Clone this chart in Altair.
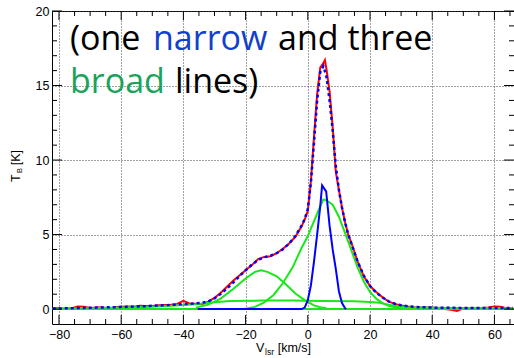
import altair as alt
import pandas as pd

# ---------------- data ----------------
# observed spectrum (red)
data_v = [-82, -80, -78, -76, -74, -72, -70, -68, -66, -64, -62, -60, -58, -56, -54, -52, -50, -48, -46, -44,
          -42, -40, -38, -36, -34, -32, -30, -28, -26, -24, -22, -20, -18, -16, -14, -12, -10, -8, -6, -4,
          -2, -1, 0, 1, 2, 3, 4, 5, 5.5, 6, 7, 8, 9, 10, 11, 12, 13, 14, 16, 18, 20, 22, 24, 26, 28, 30,
          32, 34, 36, 38, 40, 42, 44, 46, 48, 50, 52, 54, 56, 58, 60, 62, 64, 66]
data_t = [0.08, 0.06, 0.02, 0.05, 0.18, 0.15, 0.08, 0.10, 0.12, 0.02, 0.12, 0.15, 0.18, 0.16, 0.22, 0.20, 0.20, 0.26, 0.28, 0.30,
          0.35, 0.55, 0.38, 0.36, 0.33, 0.50, 0.75, 1.10, 1.50, 1.90, 2.25, 2.60, 2.95, 3.35, 3.50, 3.55, 3.75, 4.05, 4.40, 4.85,
          5.55, 6.00, 6.60, 8.60, 11.6, 14.4, 16.2, 16.5, 16.7, 16.1, 14.6, 12.2, 9.2, 8.0, 6.8, 5.8, 5.0, 4.45, 3.2, 2.2, 1.55, 1.15, 0.80, 0.50, 0.35, 0.25,
          0.18, 0.12, 0.10, 0.10, 0.10, 0.05, 0.00, -0.05, -0.12, 0.05, 0.08, 0.05, 0.08, 0.10, 0.18, 0.15, 0.05, 0.08]

# total fit (blue dotted)
fit_v = [-82, -80, -76, -72, -68, -64, -60, -56, -52, -48, -44, -40, -36, -34, -32, -30, -28, -26, -24, -22,
         -20, -18, -16, -14, -12, -10, -8, -6, -4, -2, -1, 0, 1, 2, 3, 4, 5, 6, 7, 8,
         9, 10, 11, 12, 13, 14, 16, 18, 20, 22, 24, 26, 28, 30, 32, 34, 36, 40, 44, 48, 52, 56, 60, 64, 66]
fit_t = [0.03, 0.04, 0.06, 0.08, 0.10, 0.12, 0.14, 0.17, 0.20, 0.24, 0.28, 0.33, 0.38, 0.42, 0.52, 0.72, 1.02, 1.38, 1.78, 2.20,
         2.60, 2.98, 3.30, 3.48, 3.58, 3.75, 4.02, 4.40, 4.90, 5.60, 6.05, 6.70, 8.50, 11.2, 14.0, 15.9, 16.3, 15.6, 14.0, 12.0,
         9.6, 8.0, 6.8, 5.8, 5.0, 4.4, 3.2, 2.25, 1.55, 1.10, 0.78, 0.52, 0.36, 0.26, 0.20, 0.16, 0.13, 0.10, 0.09, 0.08, 0.08, 0.07, 0.07, 0.07, 0.07]

# narrow component (blue)
narrow_v = [-35.4, -2, -1, 0, 1, 2, 3, 4, 4.6, 5.9, 7, 8, 9, 10, 11, 12, 12.3]
narrow_t = [0, 0, 0.1, 0.6, 1.6, 3.2, 5.0, 6.9, 8.3, 7.9, 5.6, 4.0, 2.7, 1.2, 0.4, 0.05, 0]

# broad components (green)
broad1_v = [-36, -32, -28, -24, -20, -17, -15, -13, -10, -7, -4, -1, 2, 4, 6]
broad1_t = [0.1, 0.3, 0.7, 1.35, 2.05, 2.5, 2.6, 2.5, 2.2, 1.65, 1.05, 0.6, 0.25, 0.12, 0.05]

broad2_v = [-20, -17, -14, -11, -8, -5, -2, 0, 2, 4, 5, 6, 8, 10, 12, 14, 16, 18, 20, 22, 24, 26, 28, 30, 33, 36]
broad2_t = [0.03, 0.15, 0.45, 0.95, 1.75, 2.75, 4.1, 4.9, 5.9, 6.9, 7.36, 7.3, 7.0, 6.2, 5.1, 3.95, 2.8, 1.85, 1.15, 0.7, 0.4, 0.22, 0.12, 0.06, 0.02, 0.01]

broad3_v = [-82, -70, -60, -50, -44, -40, -36, -33, -30, -25, -15, -5, 5, 15, 20, 23, 26, 29, 32, 40, 50, 60, 66]
broad3_t = [0.03, 0.06, 0.10, 0.16, 0.22, 0.28, 0.33, 0.40, 0.46, 0.54, 0.57, 0.57, 0.55, 0.52, 0.48, 0.42, 0.30, 0.18, 0.12, 0.09, 0.08, 0.08, 0.08]

zero_v = [-82.25, 66.3]
zero_t = [0, 0]

x_major = [-80, -60, -40, -20, 0, 20, 40, 60]
x_minor = [-75, -70, -65, -55, -50, -45, -35, -30, -25, -15, -10, -5, 5, 10, 15, 25, 30, 35, 45, 50, 55, 65]
y_major = [0, 5, 10, 15, 20]
y_minor = [1, 2, 3, 4, 6, 7, 8, 9, 11, 12, 13, 14, 16, 17, 18, 19]

# ---------------- chart ----------------
W, H = 462, 313
PL, PT = 52, 11
xs = alt.Scale(domain=[-82.25, 66.3], nice=False, zero=False)
ys = alt.Scale(domain=[-1, 20], nice=False, zero=False)
FONT = "Liberation Sans"

XA = alt.Axis(values=x_major, title="", grid=True, gridDash=[1, 2], gridColor="#444",
              gridWidth=1, ticks=False, domain=False, labelFont=FONT, labelFontSize=12.5,
              labelColor="black", labelPadding=4, labelFlush=False, labelOverlap=False)
YA = alt.Axis(values=y_major, title="", grid=True, gridDash=[1, 2], gridColor="#444",
              gridWidth=1, ticks=False, domain=False, labelFont=FONT, labelFontSize=12.5,
              labelColor="black", labelPadding=3, labelFlush=False, labelOverlap=False)


def curve(vs, ts, color, width=2, dash=None):
    df = pd.DataFrame({"v": vs, "t": ts})
    kw = dict(color=color, strokeWidth=width, clip=True)
    if dash:
        kw["strokeDash"] = dash
    return alt.Chart(df).mark_line(**kw).encode(
        x=alt.X("v:Q", scale=xs, axis=XA), y=alt.Y("t:Q", scale=ys, axis=YA),
        order=alt.Order("v:Q"))


def xticks(vals, length, top):
    df = pd.DataFrame({"v": vals})
    y0 = 0 if top else H
    y1 = length if top else H - length
    return alt.Chart(df).mark_rule(color="black", strokeWidth=1).encode(
        x=alt.X("v:Q", scale=xs, axis=XA), y=alt.value(y0), y2=alt.value(y1))


def yticks(vals, length, right):
    df = pd.DataFrame({"t": vals})
    x0 = W if right else 0
    x1 = W - length if right else length
    return alt.Chart(df).mark_rule(color="black", strokeWidth=1).encode(
        y=alt.Y("t:Q", scale=ys, axis=YA), x=alt.value(x0), x2=alt.value(x1))


def label(txt, x, y, size, color="black", angle=0, align="left", font="Open Sans"):
    df = pd.DataFrame({"s": [txt]})
    return alt.Chart(df).mark_text(align=align, baseline="alphabetic", font=font, fontSize=size,
                                   color=color, angle=angle).encode(
        text="s:N", x=alt.value(x - PL), y=alt.value(y - PT))


RED = "#ff0000"
BLUE = "#0000ff"
GREEN = "#18e818"

layers = [
    curve(data_v, data_t, RED),
    curve(zero_v, zero_t, GREEN),
    curve(broad3_v, broad3_t, GREEN),
    curve(broad1_v, broad1_t, GREEN),
    curve(broad2_v, broad2_t, GREEN),
    curve(narrow_v, narrow_t, BLUE),
    curve(fit_v, fit_t, BLUE, width=2.5, dash=[3, 3]),
    xticks(x_major, 9, False), xticks(x_minor, 5, False),
    xticks(x_major, 9, True), xticks(x_minor, 5, True),
    yticks(y_major, 10, False), yticks(y_minor, 5, False),
    yticks(y_major, 10, True), yticks(y_minor, 5, True),
    # annotation
    label("(one", 70, 50, 34),
    label("narrow", 153, 50, 34, color="#1040cc"),
    label("and three", 278, 50, 34),
    label("broad", 70, 93, 34, color="#19a35b"),
    label("lines)", 175, 93, 34),
    # axis titles
    label("V", 256, 352, 12.5, font=FONT),
    label("lsr", 265, 355, 8.5, font=FONT),
    label("[km/s]", 311, 352, 12.5, font=FONT, align="right"),
    label("T", 20, 182, 12.5, font=FONT, angle=270),
    label("B", 22, 173, 7.5, font=FONT, angle=270),
    label("[K]", 20, 150, 12.5, font=FONT, angle=270, align="right"),
]

chart = alt.layer(*layers).properties(
    width=W, height=H,
    autosize="none",
    padding={"left": PL, "top": PT, "right": 0, "bottom": 34},
    background="white",
).configure_view(stroke="black", strokeWidth=1)

chart.save("out.html", embed_options={"renderer": "svg", "actions": False})
